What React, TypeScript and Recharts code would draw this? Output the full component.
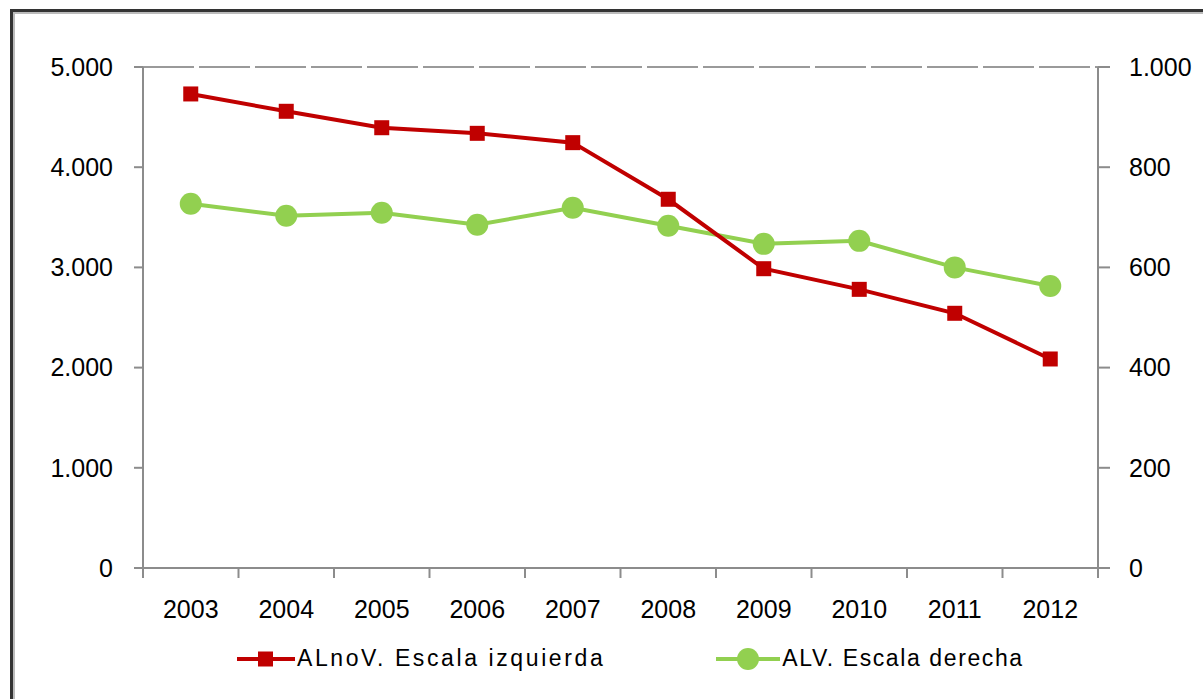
import { CartesianGrid, Legend, Line, LineChart, XAxis, YAxis } from 'recharts';

const years = ['2003', '2004', '2005', '2006', '2007', '2008', '2009', '2010', '2011', '2012'];
// ALnoV, escala izquierda
const alnov = [4731, 4558, 4394, 4338, 4245, 3680, 2987, 2781, 2542, 2086];
// ALV, escala derecha
const alv = [727, 703, 709, 685, 719, 683, 647, 653, 600, 563];
const leftTicks = [0, 1000, 2000, 3000, 4000, 5000];
const rightTicks = [0, 200, 400, 600, 800, 1000];

const data = years.map((year, i) => ({ year, alnov: alnov[i], alv: alv[i] }));

const RED = '#C00000';
const GREEN = '#92D050';
const AXIS = '#8c8c8c';
const FONT = "'Liberation Sans', Arial, sans-serif";

const fmt = (v: number) => String(v).replace(/\B(?=(\d{3})+(?!\d))/g, '.');

const tickStyle = { fill: '#000', fontSize: 25, fontFamily: FONT };

// excel style: tick marks between categories, label centred
const YearTick = (props: any) => {
    const { x, y, payload, index, visibleTicksCount } = props;
    const half = payload.offset || 0;
    return (
        <g>
            <line x1={x - half} x2={x - half} y1={y} y2={y + 10} stroke={AXIS} strokeWidth={2} />
            {index === visibleTicksCount - 1 && (
                <line x1={x + half} x2={x + half} y1={y} y2={y + 10} stroke={AXIS} strokeWidth={2} />
            )}
            <text x={x} y={y + 50} textAnchor="middle" {...tickStyle}>
                {payload.value}
            </text>
        </g>
    );
};

const LegendContent = () => (
    <div
        style={{
            display: 'flex',
            alignItems: 'center',
            marginLeft: 237,
            fontFamily: FONT,
            fontSize: 23,
            color: '#000',
        }}
    >
        <svg width={58} height={24}>
            <line x1={0} x2={58} y1={12} y2={12} stroke={RED} strokeWidth={4} />
            <rect x={21} y={4.5} width={15} height={15} fill={RED} />
        </svg>
        <span style={{ marginLeft: 2, letterSpacing: 2.6 }}>ALnoV. Escala izquierda</span>
        <svg width={64} height={24} style={{ marginLeft: 111 }}>
            <line x1={0} x2={64} y1={12} y2={12} stroke={GREEN} strokeWidth={4} />
            <circle cx={32} cy={12} r={11} fill={GREEN} />
        </svg>
        <span style={{ marginLeft: 2, letterSpacing: 1.6 }}>ALV. Escala derecha</span>
    </div>
);

export default function App() {
    return (
        <div
            style={{
                position: 'absolute',
                left: 0,
                top: 0,
                width: 1203,
                height: 699,
                overflow: 'hidden',
                background: '#fff',
            }}
        >
            <div
                style={{
                    position: 'absolute',
                    left: 10,
                    top: 9,
                    width: 1240,
                    height: 740,
                    borderLeft: '3px solid #333',
                    borderTop: '3px solid #333',
                    boxShadow: 'inset 2px 2px 0 #bbb',
                }}
            />
            <div style={{ position: 'absolute', left: 0, top: 0 }}>
                <LineChart
                    width={1203}
                    height={699}
                    data={data}
                    margin={{ top: 67, right: 0, bottom: 71, left: 0 }}
                >
                    <CartesianGrid
                        vertical={false}
                        stroke="#9a9a9a"
                        strokeWidth={2}
                        strokeDasharray="51 5"
                    />
                    <XAxis
                        dataKey="year"
                        scale="band"
                        height={60}
                        axisLine={{ stroke: AXIS, strokeWidth: 2 }}
                        tickLine={false}
                        tickSize={0}
                        tickMargin={0}
                        interval={0}
                        tick={<YearTick />}
                    />
                    <YAxis
                        yAxisId="left"
                        orientation="left"
                        width={143}
                        domain={[0, 5000]}
                        ticks={leftTicks}
                        tickFormatter={fmt}
                        axisLine={{ stroke: AXIS, strokeWidth: 2 }}
                        tickLine={{ stroke: AXIS, strokeWidth: 2 }}
                        tickSize={9}
                        tickMargin={21}
                        tick={tickStyle}
                    />
                    <YAxis
                        yAxisId="right"
                        orientation="right"
                        width={105}
                        domain={[0, 1000]}
                        ticks={rightTicks}
                        tickFormatter={fmt}
                        axisLine={{ stroke: AXIS, strokeWidth: 2 }}
                        tickLine={{ stroke: AXIS, strokeWidth: 2 }}
                        tickSize={12}
                        tickMargin={19}
                        tick={{ ...tickStyle, textAnchor: 'start' }}
                    />
                    <Legend
                        verticalAlign="middle"
                        content={<LegendContent />}
                        wrapperStyle={{ top: 645, left: 0, width: 1203 }}
                    />
                    <Line
                        yAxisId="right"
                        dataKey="alv"
                        name="ALV. Escala derecha"
                        stroke={GREEN}
                        strokeWidth={4}
                        dot={{ r: 11, fill: GREEN, stroke: 'none' }}
                        isAnimationActive={false}
                    />
                    <Line
                        yAxisId="left"
                        dataKey="alnov"
                        name="ALnoV. Escala izquierda"
                        stroke={RED}
                        strokeWidth={4}
                        dot={(p: any) => (
                            <rect
                                key={p.index}
                                x={p.cx - 7.5}
                                y={p.cy - 7.5}
                                width={15}
                                height={15}
                                fill={RED}
                            />
                        )}
                        isAnimationActive={false}
                    />
                </LineChart>
            </div>
        </div>
    );
}
